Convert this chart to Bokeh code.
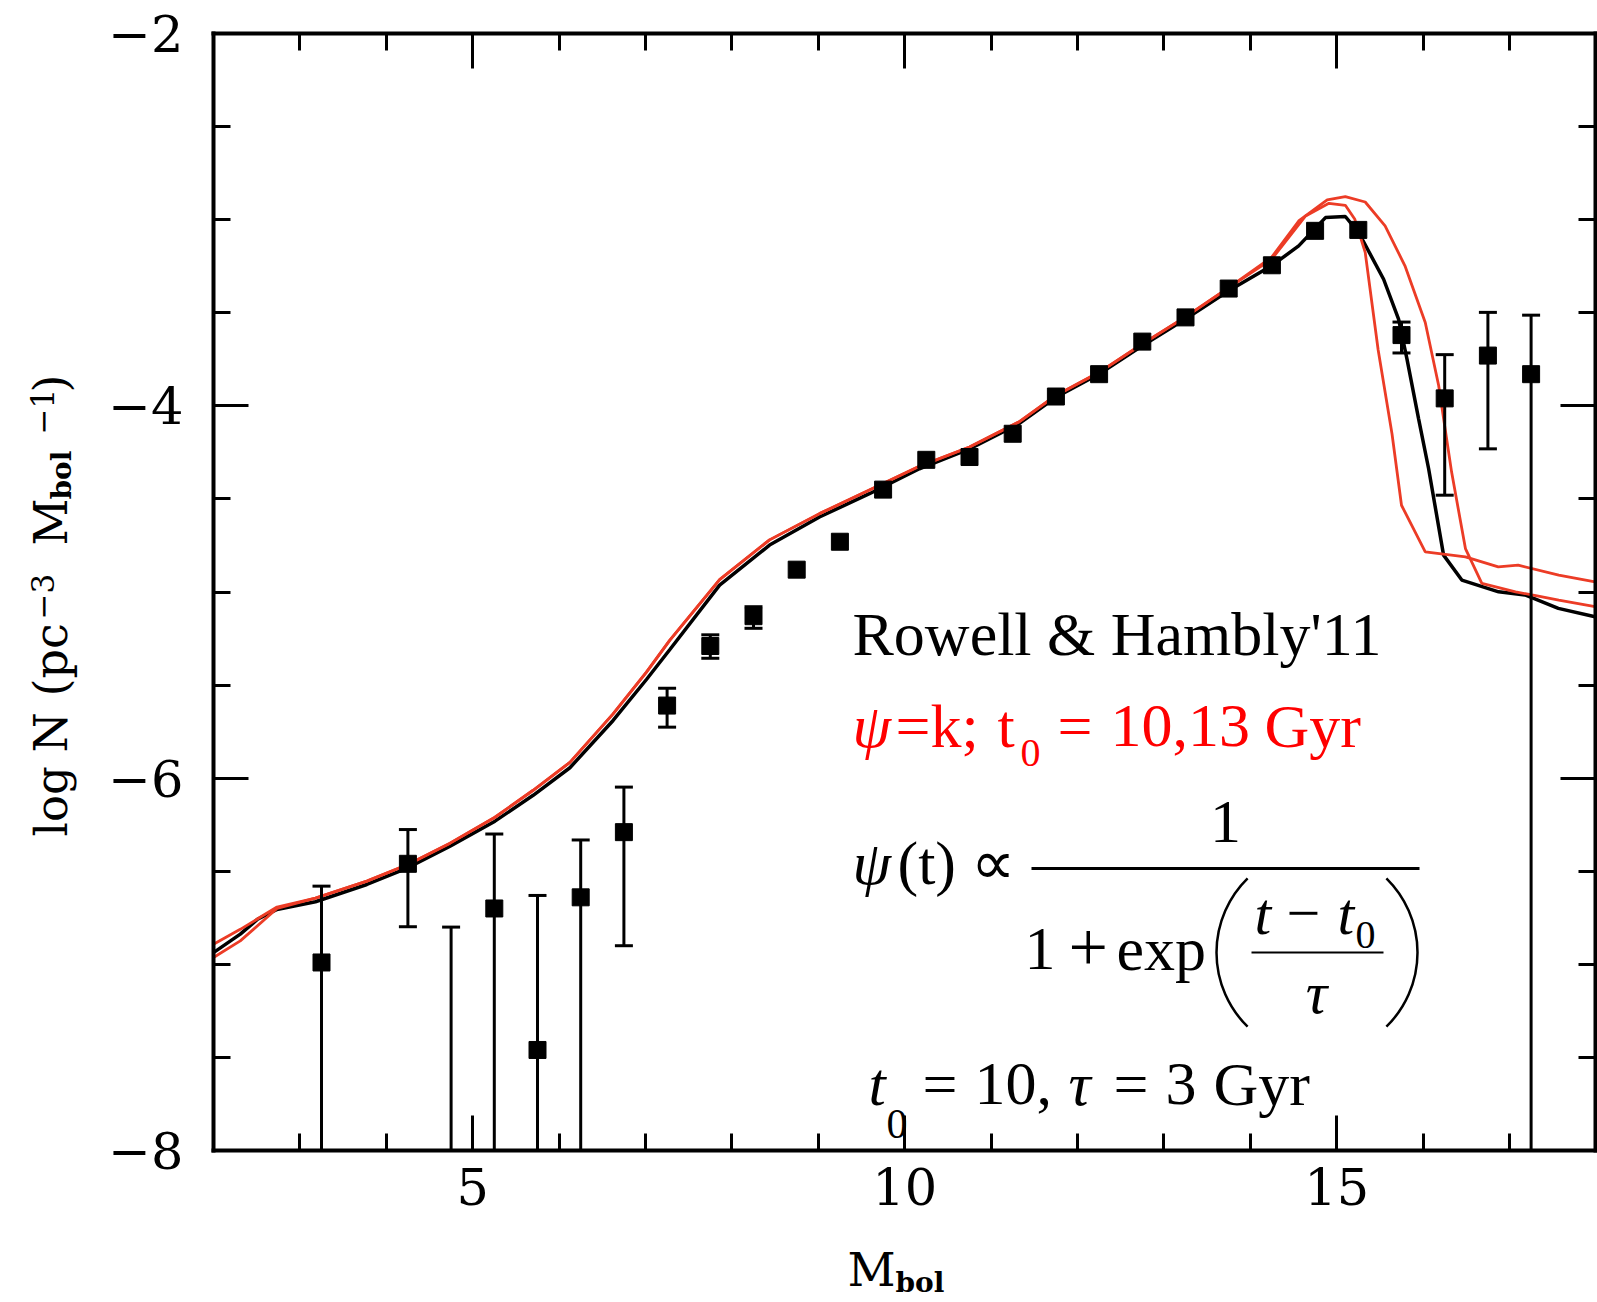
import math
from bokeh.plotting import figure
from bokeh.models import Label, Range1d, LinearAxis, FixedTicker, CustomJSTickFormatter
from bokeh.embed import file_html
from bokeh.resources import INLINE

nan = float("nan")

# ---------------- data ----------------
mbol = [3.25, 4.25, 4.75, 5.25, 5.75, 6.25, 6.75, 7.25, 7.75, 8.25, 8.75, 9.25,
        9.75, 10.25, 10.75, 11.25, 11.75, 12.25, 12.75, 13.25, 13.75, 14.25,
        14.75, 15.25, 15.75, 16.25, 16.75, 17.25]
logN = [-6.99, -6.46, nan, -6.70, -7.46, -6.64, -6.29, -5.61, -5.29, -5.13, -4.88,
        -4.73, -4.45, -4.29, -4.275, -4.15, -3.95, -3.83, -3.655, -3.525, -3.37,
        -3.245, -3.06, -3.055, -3.62, -3.96, -3.73, -3.83]
err_hi = [-6.58, -6.276, -6.80, -6.30, -6.63, -6.332, -6.048, -5.517, -5.23, -5.079,
          nan, nan, nan, nan, nan, nan, nan, nan, nan, nan, nan, nan, nan, nan,
          -3.55, -3.725, -3.498, -3.513]
# -9.0 : the bar runs off the bottom of the plot
err_lo = [-9.0, -6.798, -9.0, -9.0, -9.0, -9.0, -6.90, -5.726, -5.356, -5.195,
          nan, nan, nan, nan, nan, nan, nan, nan, nan, nan, nan, nan, nan, nan,
          -3.716, -4.48, -4.231, -9.0]

black_x = [2.00, 2.31, 2.51, 2.735, 3.18, 3.775, 4.256, 4.738, 5.258, 5.70, 6.125,
           6.625, 7.011, 7.28, 7.858, 8.436, 9.014, 9.592, 10.17, 10.75, 11.32,
           11.75, 12.25, 12.75, 13.25, 13.75, 14.245, 14.56, 14.87, 15.10, 15.254,
           15.543, 15.716, 15.813, 15.948, 16.064, 16.237, 16.448, 16.874, 17.18,
           17.565, 17.99]
black_y = [-6.937, -6.838, -6.758, -6.705, -6.664, -6.571, -6.480, -6.365, -6.231,
           -6.092, -5.944, -5.69, -5.47, -5.31, -4.963, -4.748, -4.597, -4.472,
           -4.338, -4.231, -4.097, -3.954, -3.829, -3.677, -3.534, -3.382, -3.248,
           -3.141, -2.989, -2.983, -3.069, -3.320, -3.534, -3.748, -4.070, -4.338,
           -4.802, -4.936, -4.999, -5.016, -5.088, -5.133]

red_a_x = [2.00, 2.31, 2.735, 3.18, 3.775, 4.256, 4.738, 5.258, 5.70, 6.125, 6.625,
           7.011, 7.28, 7.858, 8.436, 9.014, 9.592, 10.17, 10.75, 11.32, 11.75,
           12.25, 12.75, 13.25, 13.75, 14.245, 14.64, 14.91, 15.10, 15.21, 15.33,
           15.48, 15.64, 15.75, 16.025, 16.49, 16.87, 17.10, 17.57, 17.99]
red_a_y = [-6.892, -6.812, -6.692, -6.644, -6.553, -6.462, -6.349, -6.210, -6.065,
           -5.915, -5.655, -5.43, -5.26, -4.934, -4.72, -4.579, -4.452, -4.325,
           -4.221, -4.087, -3.944, -3.82, -3.668, -3.522, -3.365, -3.214, -2.98,
           -2.912, -2.923, -2.998, -3.176, -3.70, -4.150, -4.534, -4.784, -4.811,
           -4.865, -4.856, -4.909, -4.945]

red_b_x = [2.00, 2.31, 2.735, 3.18, 3.775, 4.256, 4.738, 5.258, 5.70, 6.125, 6.625,
           7.011, 7.28, 7.858, 8.436, 9.014, 9.592, 10.17, 10.75, 11.32, 11.75,
           12.25, 12.75, 13.25, 13.75, 14.245, 14.56, 14.89, 15.10, 15.33, 15.56,
           15.79, 16.025, 16.18, 16.33, 16.49, 16.68, 17.07, 17.26, 17.57, 17.99]
red_b_y = [-6.963, -6.874, -6.700, -6.644, -6.553, -6.462, -6.349, -6.210, -6.065,
           -5.915, -5.655, -5.43, -5.26, -4.934, -4.72, -4.579, -4.452, -4.325,
           -4.221, -4.087, -3.944, -3.82, -3.668, -3.522, -3.365, -3.203, -3.007,
           -2.894, -2.876, -2.905, -3.033, -3.248, -3.552, -3.891, -4.356, -4.767,
           -4.954, -4.999, -5.016, -5.043, -5.079]

y_major = [-8, -6, -4, -2]
y_minor = [-8 + 0.5 * i for i in range(13)]
x_major = [5, 10, 15]
x_minor = list(range(2, 19))

# ---------------- layout (page pixels) ----------------
W, H = 1597, 1302
BOX_L, BOX_T, BOX_B = 213.0, 33.0, 1150.0   # pixel position of the axes box
XMIN, XMAX, YMIN, YMAX = 2.0, 18.0, -8.0, -2.0
PXM = 86.4                                  # px per magnitude
PXL = (BOX_B - BOX_T) / (YMAX - YMIN)       # px per dex
XS = XMIN - BOX_L / PXM
XE = XMIN + (W - BOX_L) / PXM
YE = YMAX + BOX_T / PXL
YS = YMAX - (H - BOX_T) / PXL


def XD(px):
    return XMIN + (px - BOX_L) / PXM


def YD(py):
    return YMAX - (py - BOX_T) / PXL


p = figure(width=W, height=H, x_range=Range1d(XS, XE), y_range=Range1d(YS, YE),
           output_backend="svg", toolbar_location=None, min_border=0,
           x_axis_type=None, y_axis_type=None)
p.grid.visible = False
p.outline_line_color = None
p.background_fill_color = "white"
p.border_fill_color = "white"

TICK_FONT = "DejaVu Serif"
minus_fmt = CustomJSTickFormatter(code="return tick < 0 ? '\\u2212' + Math.abs(tick) : '' + tick;")
blank_fmt = CustomJSTickFormatter(code="return '';")


def make_axis(loc, bounds, major, minor, labels, standoff):
    ax = LinearAxis(fixed_location=loc, bounds=bounds)
    ax.ticker = FixedTicker(ticks=major, minor_ticks=minor)
    ax.axis_line_width = 4
    ax.axis_line_color = "black"
    ax.major_tick_in = 35
    ax.major_tick_out = 0
    ax.minor_tick_in = 17
    ax.minor_tick_out = 0
    ax.major_tick_line_width = 3
    ax.minor_tick_line_width = 3
    ax.major_tick_line_color = "black"
    ax.minor_tick_line_color = "black"
    if labels:
        ax.formatter = minus_fmt
        ax.major_label_text_font = TICK_FONT
        ax.major_label_text_font_size = "51px"
        ax.major_label_text_color = "black"
        ax.major_label_standoff = standoff
    else:
        ax.formatter = blank_fmt
        ax.major_label_text_font_size = "1px"
        ax.major_label_standoff = 0
    return ax


ex = 2.0 / PXM
ey = 2.0 / PXL
p.add_layout(make_axis(YMIN, (XMIN - ex, XMAX + ex), x_major, x_minor, True, 17), "below")
p.add_layout(make_axis(XMIN, (YMIN - ey, YMAX + ey), y_major, y_minor, True, 30), "left")
p.add_layout(make_axis(YMAX, (XMIN - ex, XMAX + ex), x_major, x_minor, False, 0), "above")
p.add_layout(make_axis(XMAX, (YMIN - ey, YMAX + ey), y_major, y_minor, False, 0), "right")

# ---------------- model curves ----------------
RED = "#ec3c26"
p.line(black_x, black_y, line_color="black", line_width=3.5)
p.line(red_a_x, red_a_y, line_color=RED, line_width=2.8)
p.line(red_b_x, red_b_y, line_color=RED, line_width=2.8)

# ---------------- observed points ----------------
bar_lo = [max(v, YMIN) if v == v else nan for v in err_lo]     # stop bars at the axis
cap_lo = [v if (v == v and v > YMIN) else nan for v in err_lo]
p.segment(x0=mbol, y0=bar_lo, x1=mbol, y1=err_hi, line_color="black", line_width=3)
p.scatter(mbol, err_hi, marker="dash", size=18, line_color="black", line_width=3)
p.scatter(mbol, cap_lo, marker="dash", size=18, line_color="black", line_width=3)
p.scatter(mbol, logN, marker="square", size=17, fill_color="black", line_color="black")

# ---------------- texts ----------------
BASE_OFF = 0.35   # baseline correction (fraction of font size)


def txt(px, py, s, size, color="black", font="Liberation Serif", style="normal",
        rotated=False, align="left"):
    off = BASE_OFF * size
    if rotated:
        ax_, ay_, ang = px - off, py, math.pi / 2
    else:
        ax_, ay_, ang = px, py - off, 0.0
    p.add_layout(Label(x=XD(ax_), y=YD(ay_), text=s, text_font=font,
                       text_font_size=f"{size}px", text_color=color,
                       text_font_style=style, angle=ang, text_align=align,
                       text_baseline="alphabetic"))


AX_FONT = "DejaVu Serif"
# y axis label (rotated, reads bottom to top)
txt(67, 836, "log", 45, font=AX_FONT, rotated=True)
txt(67, 752, "N", 46, font=AX_FONT, rotated=True)
txt(67, 696, "(pc", 46, font=AX_FONT, rotated=True)
txt(53, 619, "\u22123", 31, font=AX_FONT, rotated=True)
txt(67, 545, "M", 46, font=AX_FONT, rotated=True)
txt(71, 499, "bol", 28, font=AX_FONT, style="bold", rotated=True)
txt(53, 434, "\u22121", 31, font=AX_FONT, rotated=True)
txt(67, 392, ")", 46, font=AX_FONT, rotated=True)

# x axis label
txt(847, 1285, "M", 47, font=AX_FONT)
txt(895, 1292, "bol", 28, font=AX_FONT, style="bold")

FS = 62
SUB = 40
RED_TXT = "#ff0000"
txt(852, 655, "Rowell & Hambly'11", FS)

txt(852, 747, "\u03c8", FS, color=RED_TXT, style="italic")
txt(895, 747, "=k;", FS, color=RED_TXT)
txt(997, 747, "t", FS, color=RED_TXT)
txt(1020, 766, "0", SUB, color=RED_TXT)
txt(1057, 747, "=", FS, color=RED_TXT)
txt(1110, 747, "10,13", FS, color=RED_TXT)
txt(1264, 747, "Gyr", FS, color=RED_TXT)

# formula
txt(852, 884, "\u03c8", FS, style="italic")
txt(897, 884, "(t)", FS)
txt(970, 884, "\u221d", FS)
txt(1225, 843, "1", FS, align="center")
p.segment(x0=[XD(1031)], y0=[YD(868)], x1=[XD(1419)], y1=[YD(868)],
          line_color="black", line_width=3)
txt(1024, 970, "1", FS)
txt(1068, 972, "+", 70)
txt(1116, 970, "exp", FS)
PR = 104
p.arc(x=[XD(1216 + PR)], y=[YD(952)], radius=PR, radius_units="screen",
      start_angle=math.radians(134.5), end_angle=math.radians(225.5),
      line_color="black", line_width=2.5)
p.arc(x=[XD(1417 - PR)], y=[YD(952)], radius=PR, radius_units="screen",
      start_angle=math.radians(-45.5), end_angle=math.radians(45.5),
      line_color="black", line_width=2.5)
txt(1254, 934, "t", 60, style="italic")
txt(1286, 934, "\u2212", 60)
txt(1337, 934, "t", 60, style="italic")
txt(1355, 948, "0", SUB)
p.segment(x0=[XD(1251)], y0=[YD(952)], x1=[XD(1383)], y1=[YD(952)],
          line_color="black", line_width=2)
txt(1316, 1013, "\u03c4", 60, style="italic", align="center")

# parameters line
txt(868, 1105, "t", FS, style="italic")
txt(886, 1138, "0", SUB + 2)
txt(922, 1105, "=", FS)
txt(974, 1105, "10,", FS)
txt(1068, 1105, "\u03c4", FS, style="italic")
txt(1113, 1105, "=", FS)
txt(1165, 1105, "3", FS)
txt(1213, 1105, "Gyr", FS)

open("out.html", "w").write(file_html(p, INLINE))
